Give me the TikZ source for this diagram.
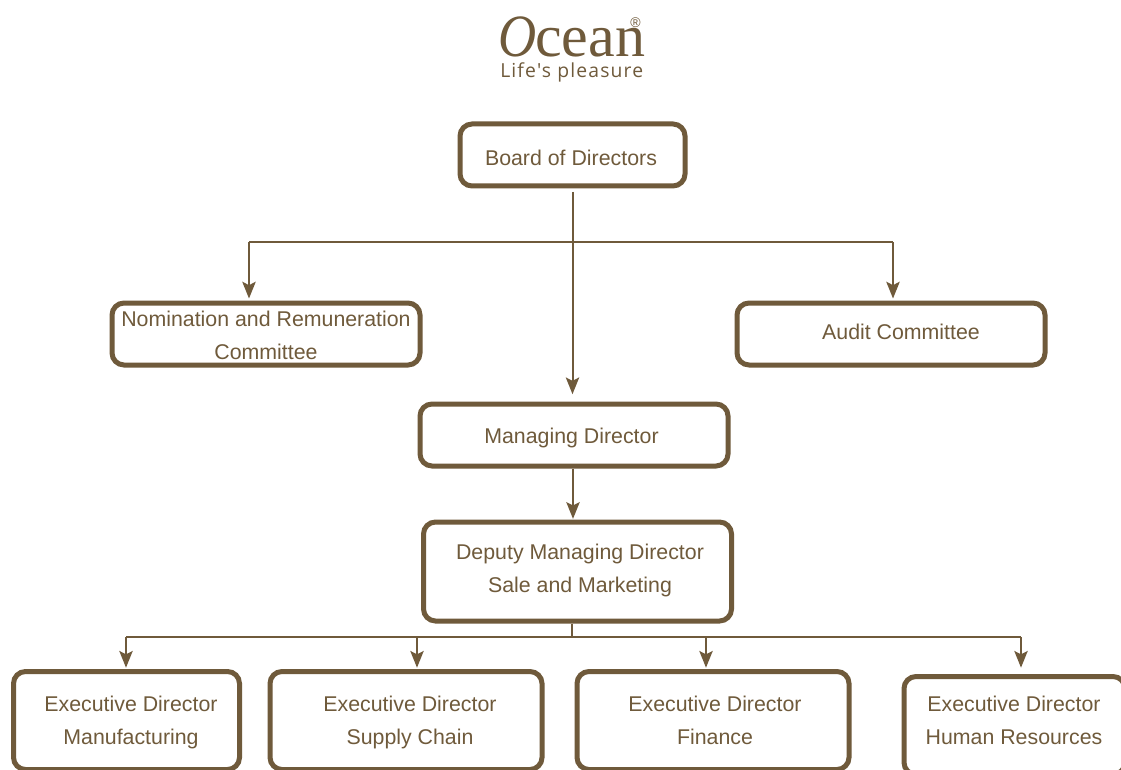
\documentclass[tikz,border=0pt]{standalone}
\usepackage{fontspec}
\setmainfont{Liberation Sans}
\newfontfamily\logoserif{Liberation Serif}
\newfontfamily\logosans[LetterSpace=6]{Open Sans}
\usetikzlibrary{arrows.meta}
\definecolor{ocean}{HTML}{6F5A3B}
\tikzset{
  box/.style={draw=ocean,line width=3.75pt,rounded corners=9pt,inner sep=0pt,fill=white},
  lbl/.style={text=ocean,font=\fontsize{16}{25}\selectfont,align=center,inner sep=0pt},
  wire/.style={draw=ocean,line width=1.5pt},
  arrow/.style={wire,-{Stealth[length=12.5pt,width=10pt,inset=2.5pt]}},
  logo/.style={text=ocean,inner sep=0pt,anchor=base west}
}
\newcommand{\boxat}[5]{\node[box,minimum width=#3*0.75pt,minimum height=#4*0.75pt] (#5) at (#1,#2) {};}
\begin{document}
\begin{tikzpicture}[x=0.75pt,y=-0.75pt]
\useasboundingbox (0,0) rectangle (1121,770);
\clip (0,0) rectangle (1121,770);
\fill[white] (0,0) rectangle (1121,770);
% logo
\node[logo,font=\logoserif\fontsize{45}{45}\selectfont\itshape] (logoO) at (498,56.5) {\scalebox{0.88}[1]{O}};
\node[logo,font=\logoserif\fontsize{45}{45}\selectfont] (logoname) at (535,56.5) {cean};
\node[logo,font=\fontsize{10.5}{10.5}\selectfont] (logoreg) at (630,28) {®};
\node[logo,font=\logosans\fontsize{14.5}{14.5}\selectfont] (logotag) at (500,78) {Life's pleasure};
% boxes
\boxat{572.5}{155}{225}{62}{board}
\boxat{266}{334}{308}{62}{nom}
\boxat{891}{334}{308}{62}{audit}
\boxat{574}{435}{308}{62}{md}
\boxat{577.5}{571.5}{308}{99}{dmd}
\boxat{126.5}{720.5}{226}{98}{ex1}
\boxat{406}{720.5}{272}{98}{ex2}
\boxat{713}{720.5}{272}{98}{ex3}
\boxat{1014.5}{725.5}{221}{98}{ex4}
% labels
\node[lbl] (tboard) at (571,158.8) {\strut Board of Directors};
\node[lbl] (tnom) at (266,336.3) {\strut Nomination and Remuneration\\\strut Committee};
\node[lbl] (taudit) at (901,333.3) {\strut Audit Committee};
\node[lbl] (tmd) at (571.5,436.6) {\strut Managing Director};
\node[lbl] (tdmd) at (580,569) {\strut Deputy Managing Director\\\strut Sale and Marketing};
\node[lbl] (tex1) at (131,721) {\strut Executive Director\\\strut Manufacturing};
\node[lbl] (tex2) at (410,721) {\strut Executive Director\\\strut Supply Chain};
\node[lbl] (tex3) at (715,721) {\strut Executive Director\\\strut Finance};
\node[lbl] (tex4) at (1014,721) {\strut Executive Director\\\strut Human Resources};
% connectors
\coordinate (busA) at (573,242);
\coordinate (dropnom) at (249,242);
\coordinate (dropaudit) at (893,242);
\coordinate (busB) at (572,637);
\coordinate (drop1) at (126,637);
\coordinate (drop2) at (417,637);
\coordinate (drop3) at (706,637);
\coordinate (drop4) at (1021,637);
\draw[arrow,shorten <=2.5pt,shorten >=5.5pt] (board.south) -- (board.south |- md.north);
\draw[wire] (dropnom) -- (dropaudit);
\draw[arrow,shorten >=1.5pt] (dropnom) -- (dropnom |- nom.north);
\draw[arrow,shorten >=1.5pt] (dropaudit) -- (dropaudit |- audit.north);
\draw[arrow,shorten >=0.5pt] (md.south -| busA) -- (busA |- dmd.north);
\draw[wire] (dmd.south -| busB) -- (busB);
\draw[wire] (drop1) -- (drop4);
\draw[arrow,shorten >=1pt] (drop1) -- (drop1 |- ex1.north);
\draw[arrow,shorten >=1pt] (drop2) -- (drop2 |- ex2.north);
\draw[arrow,shorten >=1pt] (drop3) -- (drop3 |- ex3.north);
\draw[arrow,shorten >=1pt] (drop4) -- (drop4 |- ex3.north);
\end{tikzpicture}
\end{document}
